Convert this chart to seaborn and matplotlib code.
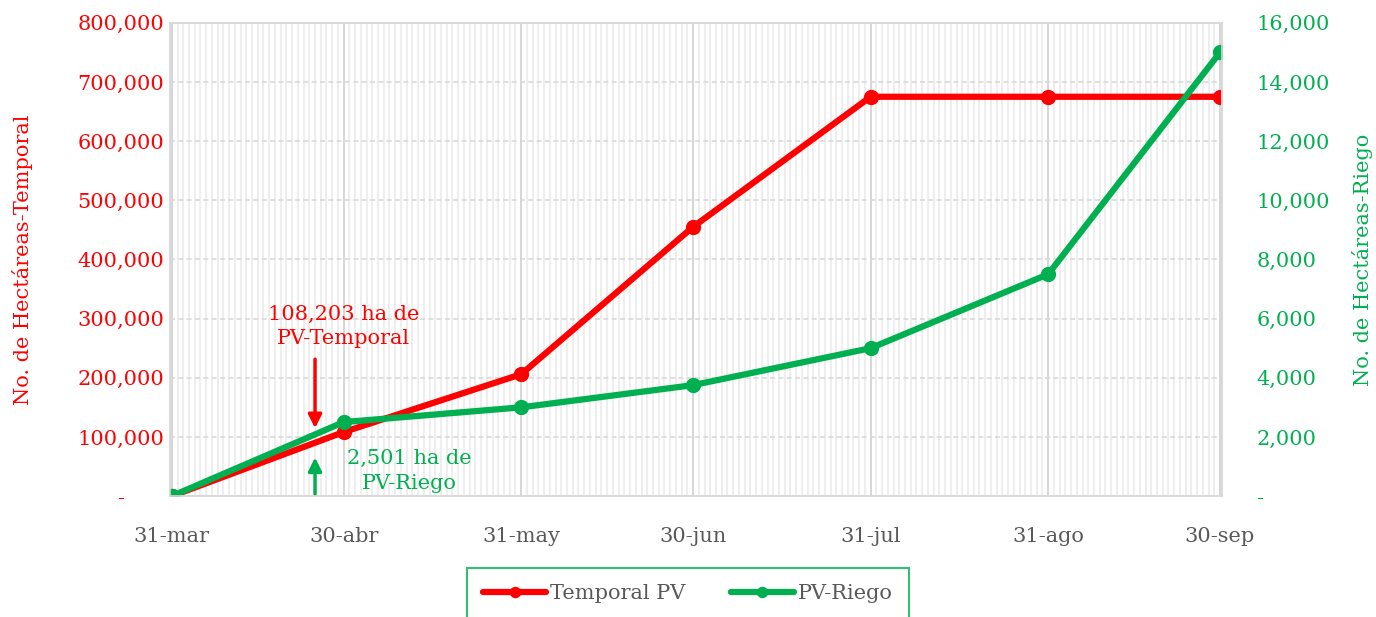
import pandas as pd
import matplotlib.pyplot as plt
import matplotlib.dates as mdates
import matplotlib.ticker as mticker
import seaborn as sns

# data
fechas = ['2023-03-31', '2023-04-30', '2023-05-31', '2023-06-30',
          '2023-07-31', '2023-08-31', '2023-09-30']
etiquetas = ['31-mar', '30-abr', '31-may', '30-jun', '31-jul', '31-ago', '30-sep']
temporal = [0, 108203, 206000, 455000, 675000, 675000, 675000]
riego = [0, 2501, 3000, 3750, 5000, 7500, 15000]

ROJO = '#FF0000'
VERDE = '#00B050'
GRIS = '#595959'
FS = 15

sns.set_theme(style="white")
plt.rcParams['font.family'] = ['DejaVu Serif']

df = pd.DataFrame({'fecha': pd.to_datetime(fechas), 'temporal': temporal, 'riego': riego})

fig = plt.figure(figsize=(13.76, 6.17), dpi=100)
ax = fig.add_axes([0.1235, 0.196, 0.7645, 0.767])
ax2 = ax.twinx()

sns.lineplot(data=df, x='fecha', y='temporal', ax=ax, color=ROJO, lw=4.5,
             marker='o', markersize=11, markeredgewidth=0, label='Temporal PV', legend=False)
sns.lineplot(data=df, x='fecha', y='riego', ax=ax2, color=VERDE, lw=4.5,
             marker='o', markersize=11, markeredgewidth=0, label='PV-Riego', legend=False)

x0 = df['fecha'].iloc[0] - pd.Timedelta(hours=8)
x1 = df['fecha'].iloc[-1] + pd.Timedelta(hours=8)
ax.set_xlim(x0, x1)
ax.set_ylim(0, 800000)
ax2.set_ylim(0, 16000)

ax.set_xticks(df['fecha'])
ax.set_xticklabels(etiquetas)
ax.xaxis.set_minor_locator(mdates.DayLocator())
ax.set_yticks(range(0, 800001, 100000))
ax2.set_yticks(range(0, 16001, 2000))

# accounting style: zero shown as a dash
ax.yaxis.set_major_formatter(mticker.FuncFormatter(
    lambda v, p: '-      ' if v == 0 else f'{v:,.0f}'))
ax2.yaxis.set_major_formatter(mticker.FuncFormatter(
    lambda v, p: '-' if v == 0 else f'{v:,.0f}'))

ax.grid(which='minor', axis='x', color='#EBEBEB', lw=1.2)
ax.grid(which='major', axis='x', color='#D0D0D0', lw=1.2)
ax.grid(which='major', axis='y', color='#D9D9D9', lw=1.2, ls=(0, (3, 2)))
ax.set_axisbelow(True)

for a in (ax, ax2):
    for s in a.spines.values():
        s.set_color('#D9D9D9')
        s.set_linewidth(1.2)

ax.tick_params(axis='x', which='both', length=0, labelsize=FS, labelcolor=GRIS, pad=22)
ax.tick_params(axis='y', length=0, labelsize=FS, labelcolor=ROJO, pad=4)
ax2.tick_params(axis='y', length=0, labelsize=FS, labelcolor=VERDE, pad=25)

ax.set_xlabel('')
ax.set_ylabel('No. de Hectáreas-Temporal', color=ROJO, fontsize=FS, labelpad=32)
ax2.set_ylabel('No. de Hectáreas-Riego', color=VERDE, fontsize=FS, labelpad=16)

# annotations
xa = pd.Timestamp('2023-04-25')
ax.annotate('', xy=(xa, 110000), xytext=(xa, 236000),
            arrowprops=dict(arrowstyle='-|>', color=ROJO, lw=2.5, mutation_scale=20))
ax.text(pd.Timestamp('2023-04-30'), 250000, '108,203 ha de\nPV-Temporal', color=ROJO,
        fontsize=FS, ha='center', va='bottom', linespacing=1.35)
ax.annotate('', xy=(xa, 70000), xytext=(xa, -2000),
            arrowprops=dict(arrowstyle='-|>', color=VERDE, lw=2.5, mutation_scale=20),
            annotation_clip=False)
ax.text(pd.Timestamp('2023-05-11 12:00'), 79000, '2,501 ha de\nPV-Riego', color=VERDE,
        fontsize=FS, ha='center', va='top', linespacing=1.35)

h1, l1 = ax.get_legend_handles_labels()
h2, l2 = ax2.get_legend_handles_labels()
leg = fig.legend(h1 + h2, l1 + l2, loc='upper center', bbox_to_anchor=(0.5, 0.08),
                 ncol=2, frameon=True, fontsize=FS, handlelength=3.0, markerscale=0.75,
                 borderpad=0.8, borderaxespad=0, columnspacing=2.2, handletextpad=0.2,
                 fancybox=False)
leg.get_frame().set_edgecolor(VERDE)
leg.get_frame().set_linewidth(1.5)
for t in leg.get_texts():
    t.set_color(GRIS)

fig.savefig('out.png', dpi=100)
